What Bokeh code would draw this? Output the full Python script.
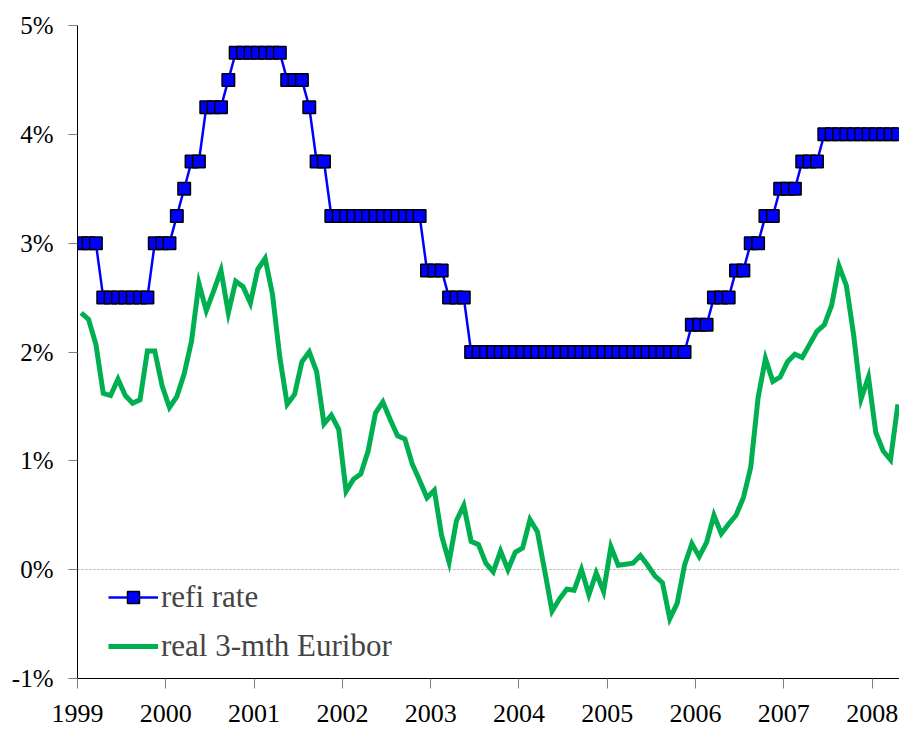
import numpy as np
from bokeh.plotting import figure
from bokeh.models import FixedTicker, PrintfTickFormatter, Range1d, Legend, LegendItem
from bokeh.embed import file_html
from bokeh.resources import INLINE

# ---- data (monthly, Jan 1999 - Apr 2008) ----
year_ticks = [1999, 2000, 2001, 2002, 2003, 2004, 2005, 2006, 2007, 2008]
pct_ticks = [-1, 0, 1, 2, 3, 4, 5]

refi_rate = [
    3.0, 3.0, 3.0, 2.5, 2.5, 2.5, 2.5, 2.5, 2.5, 2.5, 3.0, 3.0,            # 1999
    3.0, 3.25, 3.5, 3.75, 3.75, 4.25, 4.25, 4.25, 4.5, 4.75, 4.75, 4.75,   # 2000
    4.75, 4.75, 4.75, 4.75, 4.5, 4.5, 4.5, 4.25, 3.75, 3.75, 3.25, 3.25,   # 2001
    3.25, 3.25, 3.25, 3.25, 3.25, 3.25, 3.25, 3.25, 3.25, 3.25, 3.25, 2.75,  # 2002
    2.75, 2.75, 2.5, 2.5, 2.5, 2.0, 2.0, 2.0, 2.0, 2.0, 2.0, 2.0,          # 2003
    2.0, 2.0, 2.0, 2.0, 2.0, 2.0, 2.0, 2.0, 2.0, 2.0, 2.0, 2.0,            # 2004
    2.0, 2.0, 2.0, 2.0, 2.0, 2.0, 2.0, 2.0, 2.0, 2.0, 2.0, 2.25,           # 2005
    2.25, 2.25, 2.5, 2.5, 2.5, 2.75, 2.75, 3.0, 3.0, 3.25, 3.25, 3.5,      # 2006
    3.5, 3.5, 3.75, 3.75, 3.75, 4.0, 4.0, 4.0, 4.0, 4.0, 4.0, 4.0,         # 2007
    4.0, 4.0, 4.0, 4.0,                                                    # 2008
]

real_euribor = [
    2.36, 2.30, 2.07, 1.62, 1.60, 1.75, 1.60, 1.53, 1.56, 2.01, 2.01, 1.69,   # 1999
    1.49, 1.59, 1.80, 2.10, 2.63, 2.38, 2.56, 2.75, 2.36, 2.65, 2.60, 2.45,   # 2000
    2.76, 2.86, 2.53, 1.95, 1.52, 1.61, 1.91, 2.00, 1.82, 1.34, 1.42, 1.29,   # 2001
    0.72, 0.83, 0.88, 1.09, 1.44, 1.54, 1.38, 1.23, 1.20, 0.97, 0.82, 0.66,   # 2002
    0.73, 0.31, 0.07, 0.45, 0.59, 0.26, 0.23, 0.06, -0.02, 0.17, 0.00, 0.16,  # 2003
    0.20, 0.46, 0.35, -0.01, -0.38, -0.27, -0.18, -0.19, 0.00, -0.23, -0.03, -0.20,  # 2004
    0.21, 0.04, 0.05, 0.06, 0.13, 0.04, -0.06, -0.12, -0.45, -0.31, 0.04, 0.24,  # 2005
    0.12, 0.25, 0.50, 0.33, 0.42, 0.50, 0.66, 0.94, 1.58, 1.94, 1.73, 1.77,   # 2006
    1.91, 1.98, 1.95, 2.07, 2.19, 2.25, 2.43, 2.79, 2.61, 2.15, 1.57, 1.77,   # 2007
    1.26, 1.09, 1.01, 1.52,                                                  # 2008
]

month_index = np.arange(len(refi_rate))
x = 1999 + (month_index + 0.5) / 12.0   # mid-month position on the year axis

FONT = "Liberation Serif"

p = figure(width=899, height=733, output_backend="svg", toolbar_location=None,
           x_range=Range1d(1999, 2008.31), y_range=Range1d(-1, 5),
           min_border_left=77, min_border_right=0, min_border_top=25,
           min_border_bottom=55)
p.outline_line_color = None
p.background_fill_color = "white"
p.border_fill_color = "white"

p.xgrid.visible = False
p.ygrid.ticker = FixedTicker(ticks=[0])
p.ygrid.grid_line_color = "#A6A6A6"
p.ygrid.grid_line_dash = "2 2"
p.ygrid.grid_line_width = 1

l_green = p.line(x, real_euribor, line_color="#00B050", line_width=5, line_join="miter")
l_refi = p.line(x, refi_rate, line_color="#0000FF", line_width=2.5)
s_refi = p.scatter(x, refi_rate, marker="square", size=12.5, fill_color="#0000FF",
                   line_color="black", line_width=1.5)

# axes
p.xaxis.ticker = FixedTicker(ticks=year_ticks)
p.xaxis.formatter = PrintfTickFormatter(format="%d")
p.yaxis.ticker = FixedTicker(ticks=pct_ticks)
p.yaxis.formatter = PrintfTickFormatter(format="%d%%")
for ax in (p.xaxis[0], p.yaxis[0]):
    ax.axis_line_color = "black"
    ax.axis_line_width = 1
    ax.major_tick_line_color = "#808080"
    ax.major_tick_in = 0
    ax.minor_tick_line_color = None
    ax.major_label_text_font = FONT
    ax.major_label_text_color = "black"
p.xaxis.major_label_text_font_size = "26px"
p.yaxis.major_label_text_font_size = "25px"
p.xaxis.major_tick_out = 10
p.xaxis.major_label_standoff = 16
p.yaxis.major_tick_out = 9
p.yaxis.major_label_standoff = 15

legend = Legend(items=[LegendItem(label="refi rate", renderers=[l_refi, s_refi]),
                       LegendItem(label="real 3-mth Euribor", renderers=[l_green])],
                location=(31, 14), border_line_color=None, background_fill_alpha=0,
                padding=0, margin=0, spacing=13, glyph_width=50, glyph_height=30,
                label_height=30, label_standoff=3, label_text_font=FONT,
                label_text_font_size="31px")
p.add_layout(legend)

open("out.html", "w").write(file_html(p, INLINE))
